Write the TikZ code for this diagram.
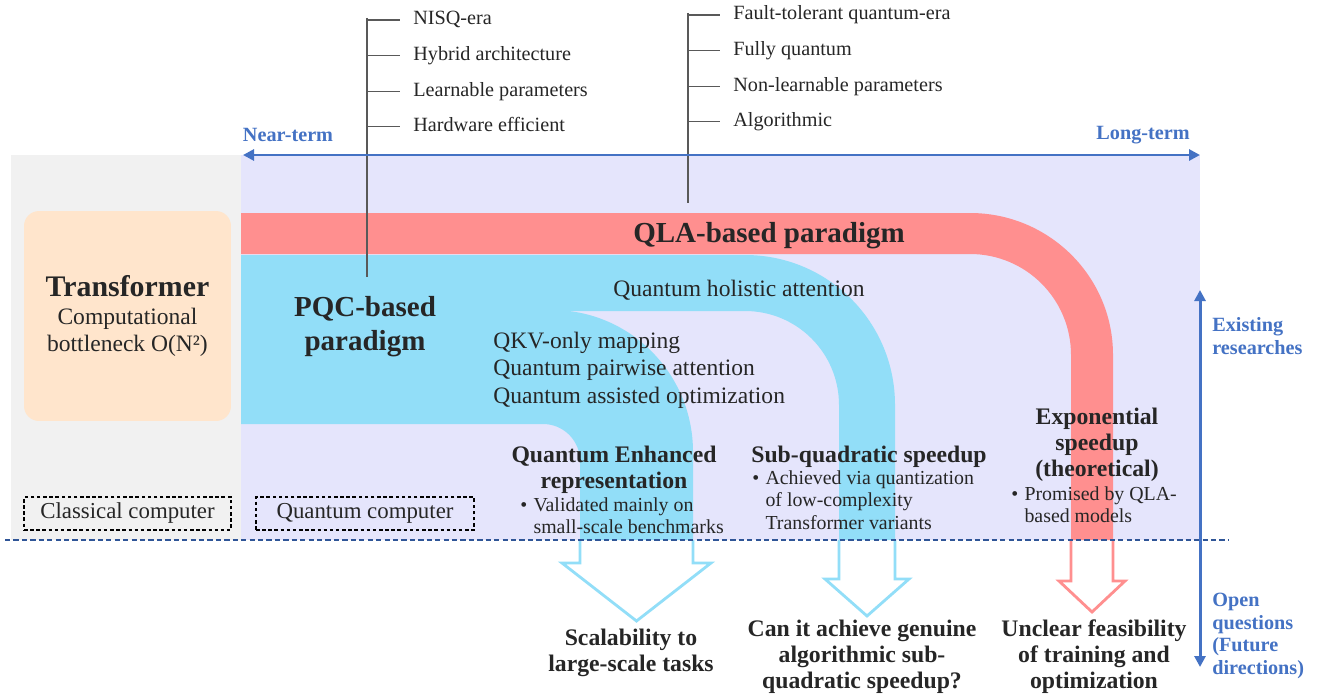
\documentclass[tikz,border=0pt]{standalone}
\usepackage{fontspec}
\setmainfont{Liberation Serif}
\usepackage{xcolor}
\usepackage{tikz}
\usetikzlibrary{arrows.meta, positioning}

\definecolor{pqcblue}{RGB}{146,222,248}
\definecolor{qlared}{RGB}{255,143,143}
\definecolor{lavender}{RGB}{229,229,252}
\definecolor{peach}{RGB}{255,229,204}
\definecolor{panelgray}{RGB}{241,241,241}
\definecolor{accent}{RGB}{68,114,196}
\definecolor{darkdash}{RGB}{47,85,151}
\definecolor{ink}{RGB}{38,38,38}
\definecolor{stemgray}{RGB}{89,89,89}

\newcommand{\bul}{\makebox[7.5pt][l]{\textbullet}}
\newcommand{\bulgap}{\hspace*{7.5pt}}

\begin{document}
\begin{tikzpicture}[
    x=0.02cm, y=-0.02cm,
    node distance=0.33cm,
    every node/.style={text=ink},
    toplabel/.style={anchor=west, inner xsep=0.26cm, inner ysep=0pt, text height=8pt, text depth=2.5pt, font=\fontsize{11.5}{13}\selectfont},
    stem/.style={draw=stemgray, line width=0.6pt},
    bigtitle/.style={font=\bfseries\fontsize{16.5}{19.3}\selectfont, align=center},
    headline/.style={font=\bfseries\fontsize{13.5}{14.8}\selectfont, align=center},
    bodytext/.style={font=\fontsize{13.4}{15.6}\selectfont, align=left},
    bullettext/.style={font=\fontsize{11.3}{12.7}\selectfont, align=left, anchor=west, inner sep=0pt},
    bluelabel/.style={text=accent, font=\bfseries\fontsize{11.5}{13}\selectfont, align=left},
    dashbox/.style={draw=black, dash pattern=on 2pt off 1.5pt, line width=0.6pt, font=\fontsize{13}{15}\selectfont, minimum height=0.66cm},
    timearrow/.style={draw=accent, line width=1.7pt, {Triangle[length=0.22cm, width=0.22cm]}-{Triangle[length=0.22cm, width=0.22cm]}},
    divider/.style={draw=darkdash, line width=0.9pt, dash pattern=on 3pt off 1.8pt},
    hollow/.style={line width=1.6pt, line join=miter},
]
    \useasboundingbox (0,0) rectangle (1317,696);
    \fill[white] (0,0) rectangle (1317,696);

    % Background panels
    \fill[panelgray] (11,155) rectangle (241,540);
    \fill[lavender] (241,155) rectangle (1200,540);

    % Paradigm bands
    \fill[qlared] (241,213) -- (970,213) to[out=0, in=90] (1113,355) -- (1113,540) -- (1071,540) -- (1071,355) to[out=90, in=0] (970,254) -- (241,254) -- cycle;
    \fill[pqcblue] (241,255) -- (745,255) to[out=0, in=90] (895,405) -- (895,540) -- (839,540) -- (839,405) to[out=90, in=0] (745,311) -- (241,311) -- cycle;
    \fill[pqcblue] (241,310) -- (552,310) to[out=0, in=90] (693,452) -- (693,540) -- (580,540) -- (580,461) to[out=90, in=0] (543,424) -- (241,424) -- cycle;

    % Hollow arrows below the divider
    \draw[hollow, draw=pqcblue] (580,540) -- (580,563) -- (562,563) -- (636.5,621) -- (711,563) -- (693,563) -- (693,540);
    \draw[hollow, draw=pqcblue] (839,540) -- (839,579) -- (825,579) -- (867,616) -- (909,579) -- (895,579) -- (895,540);
    \draw[hollow, draw=qlared] (1071,540) -- (1071,581) -- (1059,581) -- (1092,612) -- (1125,581) -- (1113,581) -- (1113,540);

    % Classical side
    \node[fill=peach, rounded corners=0.3cm, minimum width=4.14cm, minimum height=4.2cm, align=center, font=\fontsize{13.4}{15.2}\selectfont] (transformer) at (127.5,316)
        {{\bfseries\fontsize{17}{20}\selectfont Transformer}\\[1pt]Computational\\bottleneck O(N²)};
    \node[dashbox, minimum width=4.14cm] (classical) at (127.5,513.5) {Classical computer};
    \node[dashbox, minimum width=4.36cm] (quantumpc) at (365,513.5) {Quantum computer};

    % Feature lists
    \coordinate (pqcstemtop) at (367,18);
    \coordinate (pqcstembot) at (367,277);
    \coordinate (qlastemtop) at (688,13);
    \coordinate (qlastembot) at (688,203);
    \draw[stem] (pqcstemtop) -- (pqcstembot);
    \draw[stem] (qlastemtop) -- (qlastembot);

    \node[toplabel] (nisq) at (400,20) {NISQ-era};
    \node[toplabel, below=of nisq.south west, anchor=north west] (hybrid) {Hybrid architecture};
    \node[toplabel, below=of hybrid.south west, anchor=north west] (learnable) {Learnable parameters};
    \node[toplabel, below=of learnable.south west, anchor=north west] (hardware) {Hardware efficient};
    \node[toplabel] (fault) at (720,15) {Fault-tolerant quantum-era};
    \node[toplabel, below=of fault.south west, anchor=north west] (fully) {Fully quantum};
    \node[toplabel, below=of fully.south west, anchor=north west] (nonlearn) {Non-learnable parameters};
    \node[toplabel, below=of nonlearn.south west, anchor=north west] (algorithmic) {Algorithmic};

    \foreach \lbl in {nisq, hybrid, learnable, hardware}
        \draw[stem] (\lbl.west -| pqcstemtop) -- (\lbl.west);
    \foreach \lbl in {fault, fully, nonlearn, algorithmic}
        \draw[stem] (\lbl.west -| qlastemtop) -- (\lbl.west);

    % Time axis and research axis
    \coordinate (nearend) at (243,155);
    \coordinate (longend) at (1200,155);
    \coordinate (existtop) at (1200,290);
    \coordinate (openbot) at (1200,667);
    \draw[timearrow] (nearend) -- (longend);
    \draw[timearrow] (existtop) -- (openbot);
    \node[bluelabel] (nearterm) at (288,135) {Near-term};
    \node[bluelabel] (longterm) at (1143,135) {Long-term};
    \node[bluelabel, anchor=west, inner xsep=0pt] (existing) at (1212,336) {Existing\\researches};
    \node[bluelabel, anchor=west, inner xsep=0pt] (openq) at (1212,636) {Open\\questions\\(Future\\directions)};

    \coordinate (divleft) at (5,540);
    \coordinate (divright) at (1228,540);
    \draw[divider] (divleft) -- (divright);

    % Band texts
    \node[bigtitle] (qla) at (769,236) {QLA-based paradigm};
    \node[bigtitle] (pqc) at (365,327) {PQC-based\\paradigm};
    \node[bodytext] (holistic) at (739,290) {Quantum holistic attention};
    \node[bodytext, anchor=west, inner xsep=0pt] (pairwise) at (493,370) {QKV-only mapping\\Quantum pairwise attention\\Quantum assisted optimization};

    % Outcomes
    \node[headline] (enhanced) at (614,470) {Quantum Enhanced\\representation};
    \node[bullettext] (enhancednote) at (520,516) {\bul Validated mainly on\\\bulgap small-scale benchmarks};
    \node[headline] (subquad) at (869,457) {Sub-quadratic speedup};
    \node[bullettext] (subquadnote) at (752,500) {\bul Achieved via quantization\\\bulgap of low-complexity\\\bulgap Transformer variants};
    \node[headline] (expo) at (1097,445) {Exponential\\speedup\\(theoretical)};
    \node[bullettext] (exponote) at (1011,505) {\bul Promised by QLA-\\\bulgap based models};

    % Open questions
    \node[headline] (scal) at (631,653) {Scalability to\\large-scale tasks};
    \node[headline] (genuine) at (862,657) {Can it achieve genuine\\algorithmic sub-\\quadratic speedup?};
    \node[headline] (unclear) at (1094,657) {Unclear feasibility\\of training and\\optimization};
\end{tikzpicture}
\end{document}
